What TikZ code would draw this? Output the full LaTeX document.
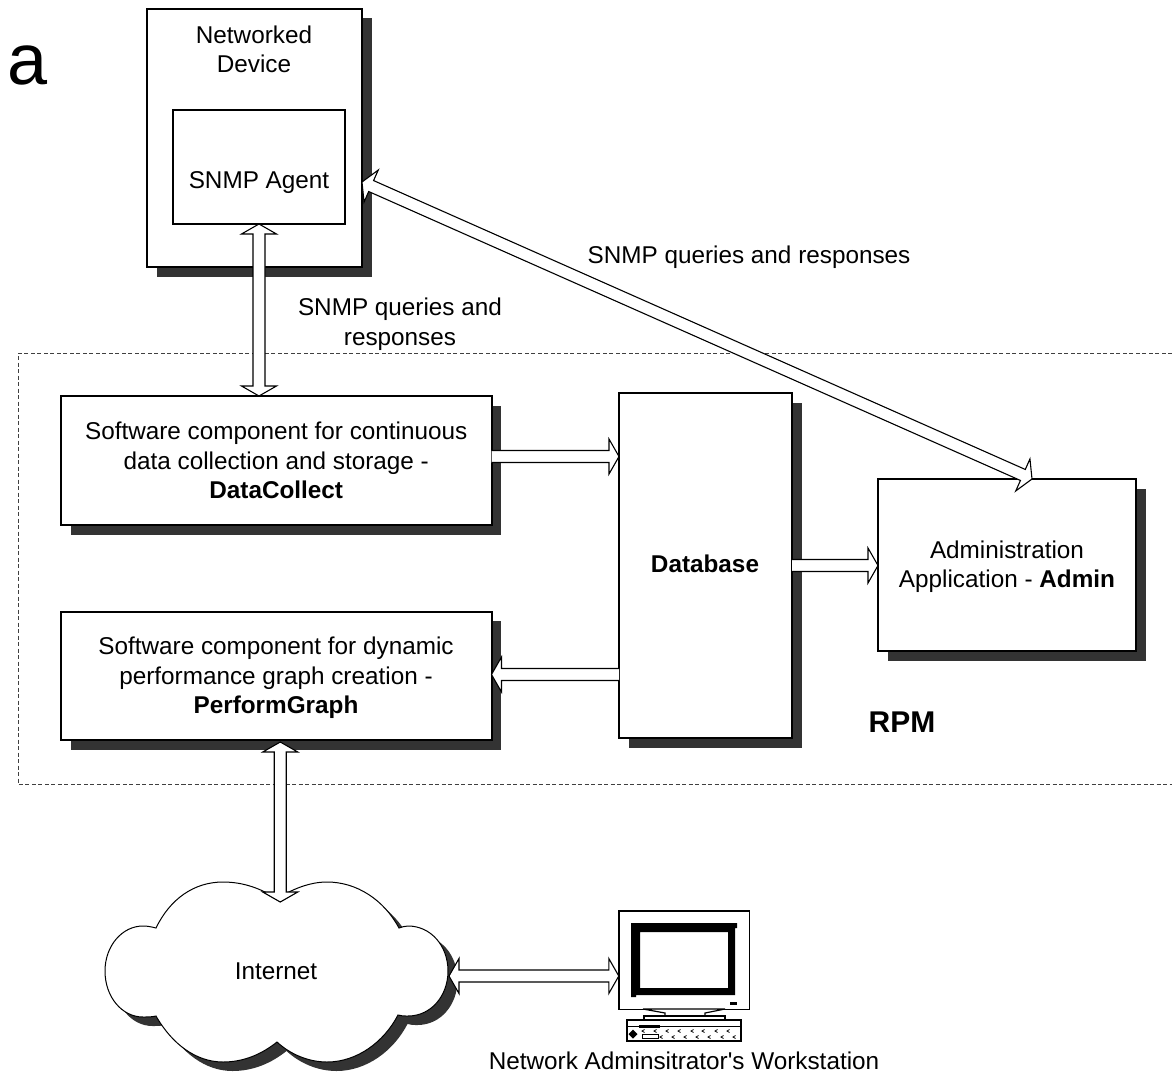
\documentclass[tikz,border=0pt]{standalone}
\usepackage{fontspec}
\setmainfont{Liberation Sans}
\usetikzlibrary{calc,shadows}
\definecolor{shadowc}{HTML}{333333}
\tikzset{
  lbl/.style={font=\fontsize{24.3}{29.5}\selectfont, align=center, inner sep=0pt},
  bx/.style={draw=black, line width=2pt, fill=white, lbl, anchor=north west, inner sep=0pt, outer sep=0pt},
  sbx/.style={bx, drop shadow={shadow xshift=9.5pt, shadow yshift=-9.5pt, fill=shadowc, opacity=1}},
  harrow/.style={draw=black, line width=1.1pt, line join=miter},
  region/.style={draw=black!75, line width=0.9pt, dash pattern=on 4pt off 2.5pt},
  cloudshadow/.style={fill=shadowc},
  cloudline/.style={draw=black, line width=1pt, fill=white},
  ms/.style={draw=black, line width=1.2pt, fill=white},
}
\newcommand\hollowpts[2]{%
  \coordinate (hb) at ($(#2)!10pt!(#1)$);
  \coordinate (hl) at ($(hb)!6pt!90:(#2)$);
  \coordinate (hr) at ($(hb)!6pt!-90:(#2)$);
  \coordinate (wl) at ($(hb)!17.5pt!90:(#2)$);
  \coordinate (wr) at ($(hb)!17.5pt!-90:(#2)$);
}
\newcommand\arrowone[2]{%
  \hollowpts{#1}{#2}
  \coordinate (sl) at ($(#1)!6pt!90:(#2)$);
  \coordinate (sr) at ($(#1)!6pt!-90:(#2)$);
  \fill[white] (sl) -- (hl) -- (wl) -- (#2) -- (wr) -- (hr) -- (sr) -- cycle;
  \draw[harrow] (sl) -- (hl) -- (wl) -- (#2) -- (wr) -- (hr) -- (sr);
}
\newcommand\arrowtwo[2]{%
  \hollowpts{#1}{#2}
  \coordinate (al) at (hl); \coordinate (ar) at (hr);
  \coordinate (bl) at (wl); \coordinate (br) at (wr);
  \hollowpts{#2}{#1}
  \path[harrow, fill=white] (#2) -- (bl) -- (al) -- (hr) -- (wr) -- (#1) -- (wl) -- (hl) -- (ar) -- (br) -- cycle;
}
\newcommand\cloudpath{%
  (156,928) .. controls (170,899) and (194,882) .. (223,882)
  .. controls (244,882) and (262,889) .. (277,899)
  .. controls (292,889) and (310,882) .. (327,882)
  .. controls (357,882) and (384,900) .. (399,928)
  .. controls (402,927) and (405,926) .. (408,926)
  .. controls (431,926) and (448,946) .. (448,971)
  .. controls (448,996) and (431,1016) .. (408,1016)
  .. controls (404,1016) and (401,1016) .. (398,1015)
  .. controls (384,1042) and (357,1062) .. (327,1062)
  .. controls (308,1062) and (290,1054) .. (277,1042)
  .. controls (262,1054) and (244,1062) .. (223,1062)
  .. controls (196,1062) and (172,1044) .. (156,1016)
  .. controls (152,1017) and (147,1017) .. (143,1017)
  .. controls (122,1017) and (105,997) .. (105,971)
  .. controls (105,946) and (122,926) .. (143,926)
  .. controls (148,926) and (152,927) .. (156,928) -- cycle}
\begin{document}
\begin{tikzpicture}[x=1pt,y=-1pt]
\useasboundingbox (0,0) rectangle (1172,1073);
\fill[white] (0,0) rectangle (1172,1073);
% panel letter
\node[font=\fontsize{72}{72}\selectfont, inner sep=0pt] (panel) at (28,65.5) {a};
% RPM region
\draw[region] (1172,353) -- (18,353) -- (18,784) -- (1172,784);
% boxes
\node[sbx, minimum width=215pt, minimum height=258pt] (device) at (147,9) {};
\node[lbl] (devicetext) at (254,49.5) {Networked\\Device};
\node[bx, minimum width=172pt, minimum height=114pt] (agent) at (173,110) {};
\node[lbl] (agenttext) at (259,182.5) {SNMP Agent};
\node[sbx, minimum width=430.5pt, minimum height=129pt] (dc) at (61,396) {Software component for continuous\\data collection and storage -\\\textbf{DataCollect}};
\node[sbx, minimum width=430.5pt, minimum height=128.5pt] (pg) at (61,611.5) {};
\node[lbl] (pgtext) at (276,678) {Software component for dynamic\\performance graph creation -\\\textbf{PerformGraph}};
\node[sbx, minimum width=173pt, minimum height=345pt] (db) at (619,393) {};
\node[lbl] (dbtext) at (705,563.5) {\textbf{Database}};
\node[sbx, minimum width=258pt, minimum height=172pt] (admin) at (878,479) {};
\node[lbl] (admintext) at (1007,566.5) {Administration\\Application - \textbf{Admin}};
% labels
\node[lbl] (q1) at (400,324) {SNMP queries and\\responses};
\node[lbl] (q2) at (749,257) {SNMP queries and responses};
\node[lbl, font=\fontsize{30}{30}\selectfont\bfseries] (rpm) at (902,722) {RPM};
% cloud
\path[cloudshadow, shift={(9.5,9)}] \cloudpath;
\draw[cloudline] \cloudpath;
\node[lbl] (inet) at (276,971) {Internet};
% workstation
\node[inner sep=0pt, minimum width=130pt, minimum height=98pt] (ws) at (684,960) {};
\draw[ms, line width=1.4pt] (ws.north west) rectangle (ws.south east);
\fill[black,even odd rule] (631,923) -- (737,923) -- (737,928) -- (735,928) -- (735,995) -- (636,995) -- (636,997) -- (631,997) -- cycle (640,932) rectangle (728,988);
\fill[black] (730,1002) rectangle (737,1005);
\draw[ms] (643,1009) -- (665,1013) -- (665,1016) -- (705,1016) -- (705,1013) -- (725,1009) -- cycle;
\draw[ms] (644,1016) rectangle (725,1020);
\draw[ms, line width=1.4pt] (627,1020) rectangle (741,1041);
\draw[black, line width=0.8pt] (627,1026) -- (741,1026);
\fill[black] (639,1024.5) rectangle (660,1027.5);
\fill[black] (633,1029.5) -- (637.5,1034) -- (633,1038.5) -- (628.5,1034) -- cycle;
\draw[black, line width=0.8pt] (642,1034) rectangle (658,1038);
\foreach \kx in {643,655,667,679,692,703,716,728}
  \draw[black, line width=0.8pt] (\kx+1.5,1029.5) -- (\kx-1,1031) -- (\kx+1.5,1032.5);
\foreach \kx in {661,673,685,697,709,722,734}
  \draw[black, line width=0.8pt] (\kx+1.5,1035.5) -- (\kx-1,1037) -- (\kx+1.5,1038.5);
\node[lbl] (wstext) at (684,1061) {Network Adminsitrator\textquotesingle s Workstation};
% connectors
\coordinate (dctop) at (agent.south |- dc.north);
\arrowtwo{agent.south}{dctop}
\coordinate (agentr) at (362,182);
\coordinate (admint) at (1032,479);
\arrowtwo{agentr}{admint}
\coordinate (dcout) at ($(dc.east)+(0,-4)$);
\coordinate (dbin) at (db.west |- dcout);
\arrowone{dcout}{dbin}
\coordinate (dbout) at ($(db.west)+(0,109)$);
\coordinate (pgin) at (pg.east |- dbout);
\arrowone{dbout}{pgin}
\coordinate (dbr) at (db.east);
\coordinate (adminl) at (admin.west |- dbr);
\arrowone{dbr}{adminl}
\coordinate (pgb) at ($(pg.south)+(4,2)$);
\coordinate (cloudt) at (pgb |- 0,902);
\arrowtwo{pgb}{cloudt}
\coordinate (cloudr) at (449,976);
\coordinate (wsl) at (ws.west |- cloudr);
\arrowtwo{cloudr}{wsl}
\end{tikzpicture}
\end{document}
